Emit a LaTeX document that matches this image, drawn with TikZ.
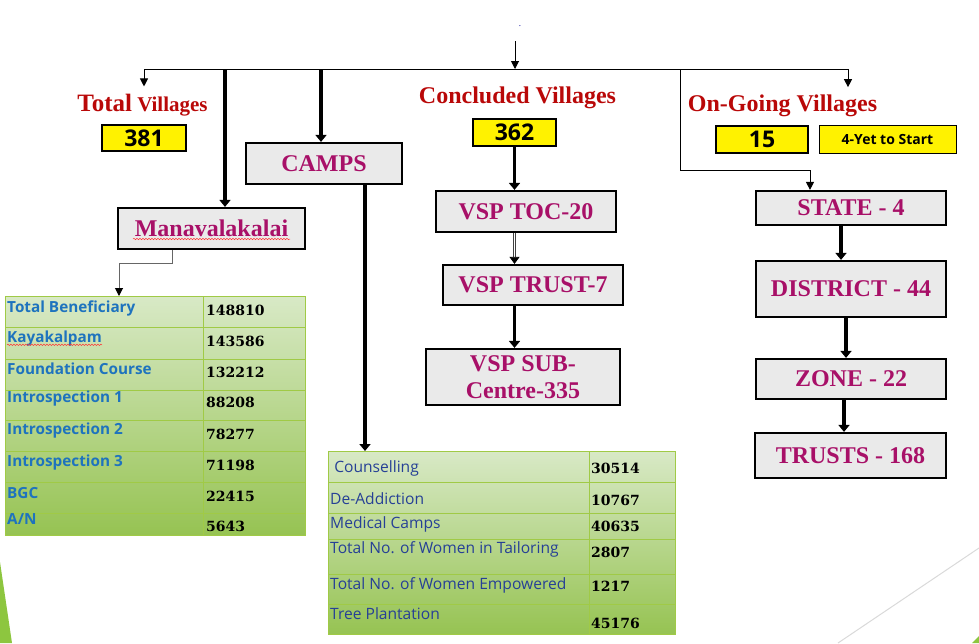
\documentclass[tikz,border=0pt]{standalone}
\usepackage{fontspec}
\setmainfont{Liberation Serif}
\newfontfamily\labfont{Open Sans}
\newfontfamily\valfont{DejaVu Serif}
\usetikzlibrary{arrows.meta,positioning,calc,decorations.pathmorphing}
\definecolor{titred}{RGB}{185,8,8}
\definecolor{boxtxt}{RGB}{168,16,104}
\definecolor{boxgray}{RGB}{234,234,234}
\definecolor{tabtop}{RGB}{216,233,198}
\definecolor{tabbot}{RGB}{150,195,82}
\definecolor{tabline}{RGB}{160,202,70}
\definecolor{labblue}{RGB}{30,115,190}
\definecolor{labnavy}{RGB}{38,64,150}
\definecolor{slide}{RGB}{141,198,63}
\tikzset{
  lvl/.style  ={rectangle, draw=black, line width=2.2pt, fill=boxgray, text=boxtxt,
                font=\fontsize{24}{27}\selectfont\bfseries, align=center, inner sep=0pt},
  cnt/.style  ={rectangle, draw=black, line width=1.8pt, fill=yellow,
                font=\labfont\bfseries\fontsize{23}{24}\selectfont, inner sep=0pt},
  ttl/.style  ={text=titred, font=\fontsize{24}{26}\selectfont\bfseries, anchor=base, inner sep=0pt},
  tab/.style  ={rectangle, draw=tabline, line width=1pt, top color=tabtop, bottom color=tabbot,
                anchor=north west, inner sep=0pt},
  lab/.style  ={anchor=west, inner sep=0pt, font=\labfont\bfseries\fontsize{15.3}{16}\selectfont, text=labblue},
  lab2/.style ={anchor=west, inner sep=0pt, font=\labfont\fontsize{15.6}{17}\selectfont, text=labnavy},
  val/.style  ={anchor=west, inner sep=0pt, font=\valfont\bfseries\fontsize{14}{15}\selectfont},
  thk/.style  ={line width=3.5pt, -{Triangle[length=7pt,width=11pt]}},
  thn/.style  ={line width=1pt, -{Triangle[length=8pt,width=8pt]}},
  dbl/.style  ={draw=black!75, line width=0.8pt, double=white, double distance=1.6pt,
                -{Triangle[length=7pt,width=10pt,color=black]}},
  squig/.style={red!80, line width=0.5pt, decorate, decoration={snake,amplitude=0.7pt,segment length=3pt}},
}
\begin{document}
\begin{tikzpicture}[x=1pt, y=-1pt]
\useasboundingbox (0,0) rectangle (979,643);

% slide corners
\fill[slide] (0,562) -- (12,643) -- (0,643) -- cycle;
\draw[black!15, line width=1pt] (979,548) -- (838,643);
\fill[slide] (972,643) -- (979,636) -- (979,643) -- cycle;

% titles and counts
\node[text=blue!60!black, font=\small] (dot) at (520,26) {.};
\node[ttl, font=\fontsize{21}{24}\selectfont\bfseries] (tv) at (142.5,111) {{\fontsize{25}{28}\selectfont Total} Villages};
\node[ttl] (cv) at (517.5,103) {Concluded Villages};
\node[ttl] (ov) at (782.5,111) {On-Going Villages};

\node[cnt, minimum width=84pt, minimum height=26pt] (n381) at (144,138) {381};
\node[cnt, minimum width=83pt, minimum height=27pt] (n362) at (514.5,132.5) {362};
\node[cnt, minimum width=92pt, minimum height=27pt] (n15) at (762,139.5) {15};
\node[cnt, line width=1pt, minimum width=137pt, minimum height=28pt,
      font=\labfont\bfseries\fontsize{14}{15}\selectfont] (yet) at (887.5,139) {4-Yet to Start};

% level boxes
\node[lvl, minimum width=187pt, minimum height=41pt] (mana) at (211.5,228.5) {Manavalakalai};
\node[lvl, minimum width=156pt, minimum height=41pt] (camps) at (324,163.5) {CAMPS};
\node[lvl, minimum width=180pt, minimum height=41pt] (toc) at (526,211.5) {VSP TOC-20};
\node[lvl, minimum width=180pt, minimum height=40pt] (trust) at (533,285) {VSP TRUST-7};
\node[lvl, minimum width=194pt, minimum height=56pt] (sub) at (523,377) {VSP SUB-\\Centre-335};
\node[lvl, minimum width=190pt, minimum height=34pt] (state) at (851,208) {STATE - 4};
\node[lvl, minimum width=190pt, minimum height=56pt] (district) at (851,289) {DISTRICT - 44};
\node[lvl, minimum width=190pt, minimum height=40pt] (zone) at (851,379) {ZONE - 22};
\node[lvl, minimum width=191pt, minimum height=45pt] (trusts) at (850.5,455.5) {TRUSTS - 168};
\draw[squig] (133,239) -- (290,239);

% Manavalakalai table
\node[tab, minimum width=300pt, minimum height=239pt] (ltab) at (5,296) {};
\foreach \y in {327,359,390,420,451,482,513}
  \draw[tabline, line width=1pt] (5,\y) -- (305,\y);
\draw[tabline, line width=1pt] (203,296) -- (203,535);
\foreach \lab/\val/\ly/\vy [count=\i] in {Total Beneficiary/148810/308/310, Kayakalpam/143586/339/341,
    Foundation Course/132212/369/372, Introspection 1/88208/399/402, Introspection 2/78277/431/434,
    Introspection 3/71198/463/465, BGC/22415/493/496, {A/N}/5643/519/526}{
  \node[lab] (ml\i) at (7,\ly) {\lab};
  \node[val] (mv\i) at (206,\vy) {\val};
}
\draw[squig] ([yshift=2pt]ml2.south west) -- ([yshift=2pt]ml2.south east);

% camps table
\node[tab, minimum width=347pt, minimum height=183pt] (ctab) at (328,451) {};
\foreach \y in {482,513,539,574,604}
  \draw[tabline, line width=1pt] (328,\y) -- (675,\y);
\draw[tabline, line width=1pt] (589,451) -- (589,634);
\foreach \lab/\val/\ly/\vy [count=\i] in {\ Counselling/30514/468/468, De-Addiction/10767/499/500,
    Medical Camps/40635/524/526, Total No. of Women in Tailoring/2807/549/552,
    Total No. of Women Empowered/1217/585/586, Tree Plantation/45176/614/623}{
  \node[lab2] (cl\i) at (330,\ly) {\lab};
  \node[val] (cv\i) at (591,\vy) {\val};
}

% connectors
\coordinate (top) at (515,41);
\coordinate (bus) at (515,69);
\coordinate (bl) at (144,69);
\coordinate (br) at (848,69);
\coordinate (b1) at (225,69);
\coordinate (b2) at (321,69);
\coordinate (b3) at (680,69);
\coordinate (k3) at (810,170);
\coordinate (k1) at (119,263);
\draw[thn] (top) -- (bus);
\draw[line width=1pt] (bl) -- (br);
\draw[thn, shorten >=7pt] (bl) -- (bl |- tv.north);
\draw[thn, shorten >=7pt] (br) -- (br |- ov.north);
\draw[thk] (b1) -- (b1 |- mana.north);
\draw[thk] (b2) -- (b2 |- camps.north);
\draw[thn] (b3) |- (k3) -- (k3 |- state.north);
\draw[line width=1pt, black!60, -{Triangle[length=8pt,width=8pt,color=black]}]
  ([xshift=-39.5pt]mana.south) |- (k1) -- (k1 |- ltab.north);
\draw[thk] ([xshift=41pt]camps.south) -- ([xshift=41pt]camps.south |- ctab.north);
\draw[thk] (n362.south) -- (n362.south |- toc.north);
\draw[dbl] (n362.south |- toc.south) -- (n362.south |- trust.north);
\draw[thk] (n362.south |- trust.south) -- (n362.south |- sub.north);
\draw[thk] ([xshift=-10pt]state.south) -- ([xshift=-10pt]state.south |- district.north);
\draw[thk] ([xshift=-5pt]district.south) -- ([xshift=-5pt]district.south |- zone.north);
\draw[thk] ([xshift=-7pt]zone.south) -- ([xshift=-7pt]zone.south |- trusts.north);
\end{tikzpicture}
\end{document}
